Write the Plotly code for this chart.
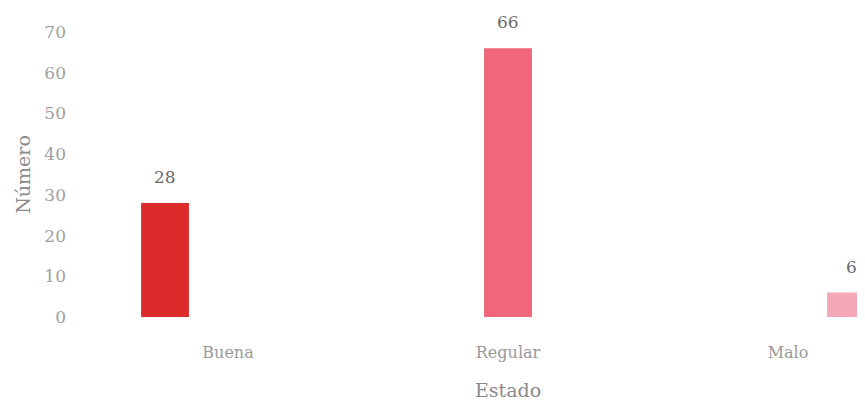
import plotly.graph_objects as go

categories = ["Buena", "Regular", "Malo"]
values = [28, 66, 6]
colors = ["#dc2b2b", "#f2667a", "#f4a9b9"]
y_ticks = [0, 10, 20, 30, 40, 50, 60, 70]

FONT = "DejaVu Serif"
bargap = 0.325
slot = (1 - bargap) / len(categories)

ML, MT, MB, W, H = 80, 24, 92, 865, 401
plot_w = W - ML
plot_h = H - MT - MB

fig = go.Figure()
for i, (c, v, col) in enumerate(zip(categories, values, colors)):
    fig.add_trace(go.Bar(x=[c], y=[v], marker=dict(color=col, line=dict(width=0)),
                         name=c, offsetgroup=str(i), showlegend=False, hoverinfo="x+y"))
    fig.add_annotation(x=i + (i - 1) * slot, y=v, xref="x", yref="y", text=str(v),
                       showarrow=False, yanchor="bottom", yshift=14,
                       font=dict(family=FONT, size=17, color="#6a6a6a"))

fig.add_annotation(x=(500 - ML) / plot_w, y=(309 - 382) / plot_h, xref="paper", yref="paper",
                   text="Estado", showarrow=False, xanchor="center", yanchor="middle",
                   font=dict(family=FONT, size=19, color="#8a8a8a"))

fig.update_layout(
    width=W, height=H,
    margin=dict(l=ML, r=0, t=MT, b=MB),
    paper_bgcolor="white", plot_bgcolor="white",
    barmode="group", bargap=bargap, bargroupgap=0.24,
    font=dict(family=FONT, color="#9a9a9a", size=16),
    xaxis=dict(categoryorder="array", categoryarray=categories,
               range=[-0.5, -0.5 + plot_w / 280], showgrid=False, zeroline=False,
               showline=False, ticks="", ticklabelstandoff=24, automargin=False,
               tickfont=dict(family=FONT, size=16, color="#9a9a9a")),
    yaxis=dict(range=[0, 70], tickvals=y_ticks, showgrid=False, zeroline=False,
               showline=False, ticks="", ticklabelstandoff=21,
               tickfont=dict(family=FONT, size=17, color="#a0a0a0"),
               title=dict(text="Número", standoff=8,
                          font=dict(family=FONT, size=19, color="#8a8a8a")),
               automargin=False),
)

fig.write_html("out.html")
